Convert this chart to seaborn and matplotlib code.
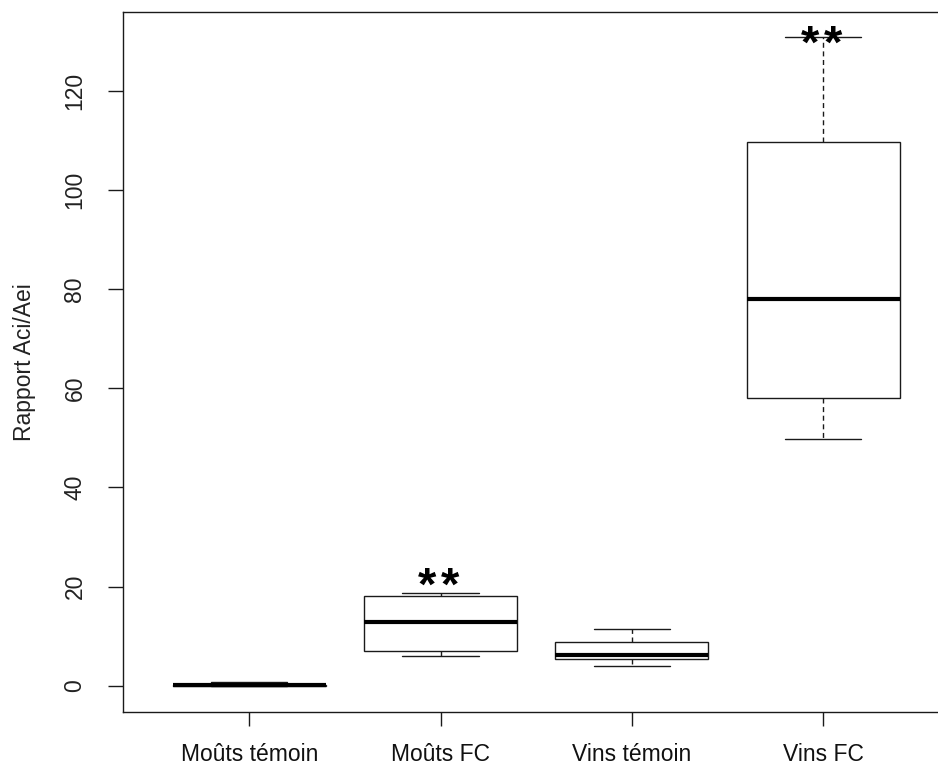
import matplotlib
matplotlib.use("Agg")
import matplotlib.pyplot as plt
import seaborn as sns
import pandas as pd
import numpy as np

# Five-number summaries (min, Q1, median, Q3, max)
categories = ["Moûts témoin", "Moûts FC", "Vins témoin", "Vins FC"]
mouts_temoin = [0.0, 0.0, 0.05, 0.2, 0.8]
mouts_fc = [6.0, 6.9, 12.9, 18.15, 18.7]
vins_temoin = [3.9, 5.3, 6.25, 8.9, 11.4]
vins_fc = [49.8, 58.1, 77.9, 109.7, 130.7]
yticks = [0, 20, 40, 60, 80, 100, 120]
signif = ["", "**", "", "**"]
signif_y = [None, 17.3, None, 126.6]

df = pd.DataFrame({
    "groupe": np.repeat(categories, 5),
    "valeur": mouts_temoin + mouts_fc + vins_temoin + vins_fc,
})

sns.set_style("white")
plt.rcParams["font.family"] = ["Liberation Sans", "DejaVu Sans"]

fig = plt.figure(figsize=(9.38, 7.65), dpi=100)
ax = fig.add_axes([123 / 938, 1 - 712 / 765, (949.3 - 123) / 938, (712 - 11.7) / 765])

lc = "#1a1a1a"
sns.boxplot(
    data=df, x="groupe", y="valeur", order=categories, ax=ax,
    whis=(0, 100), width=0.8, color="white", linecolor=lc, linewidth=1.0,
    boxprops=dict(facecolor="white", edgecolor=lc, linewidth=1.0),
    medianprops=dict(color="black", linewidth=3.0, solid_capstyle="butt"),
    whiskerprops=dict(color=lc, linewidth=1.0, linestyle=(0, (3.6, 2.6))),
    capprops=dict(color=lc, linewidth=1.0),
    showfliers=False,
)

ax.set_xlim(-0.66, 3.66)
ax.set_ylim(-5.3, 135.9)
ax.set_yticks(yticks)
ax.set_yticklabels([str(v) for v in yticks])
ax.set_xlabel("")
ax.set_ylabel("")

for s in ["top", "bottom", "left"]:
    ax.spines[s].set_visible(True)
    ax.spines[s].set_color(lc)
    ax.spines[s].set_linewidth(1.0)
ax.spines["right"].set_visible(False)

ax.tick_params(axis="y", direction="out", length=10.8, width=1.0, color=lc,
               labelsize=16.5, labelcolor="#222222", pad=15.5, labelrotation=90,
               left=True)
ax.tick_params(axis="x", direction="out", length=10, width=1.0, color=lc,
               labelsize=16.5, labelcolor="#111111", pad=12, bottom=True)
for lab in ax.get_yticklabels():
    lab.set_verticalalignment("center")

fig.text(24 / 938, 1 - 362 / 765, "Rapport Aci/Aei", rotation=90,
         ha="center", va="center", fontsize=16.5, color="#222222")

for i, (s, yv) in enumerate(zip(signif, signif_y)):
    if s:
        for k, ch in enumerate(s):
            ax.text(i - 0.01 + (k - 0.5) * 0.12, yv, ch, ha="center",
                    va="baseline", fontsize=34, fontweight="bold",
                    family="Liberation Sans", color="black")

fig.savefig("out.png", dpi=100, facecolor="white")
